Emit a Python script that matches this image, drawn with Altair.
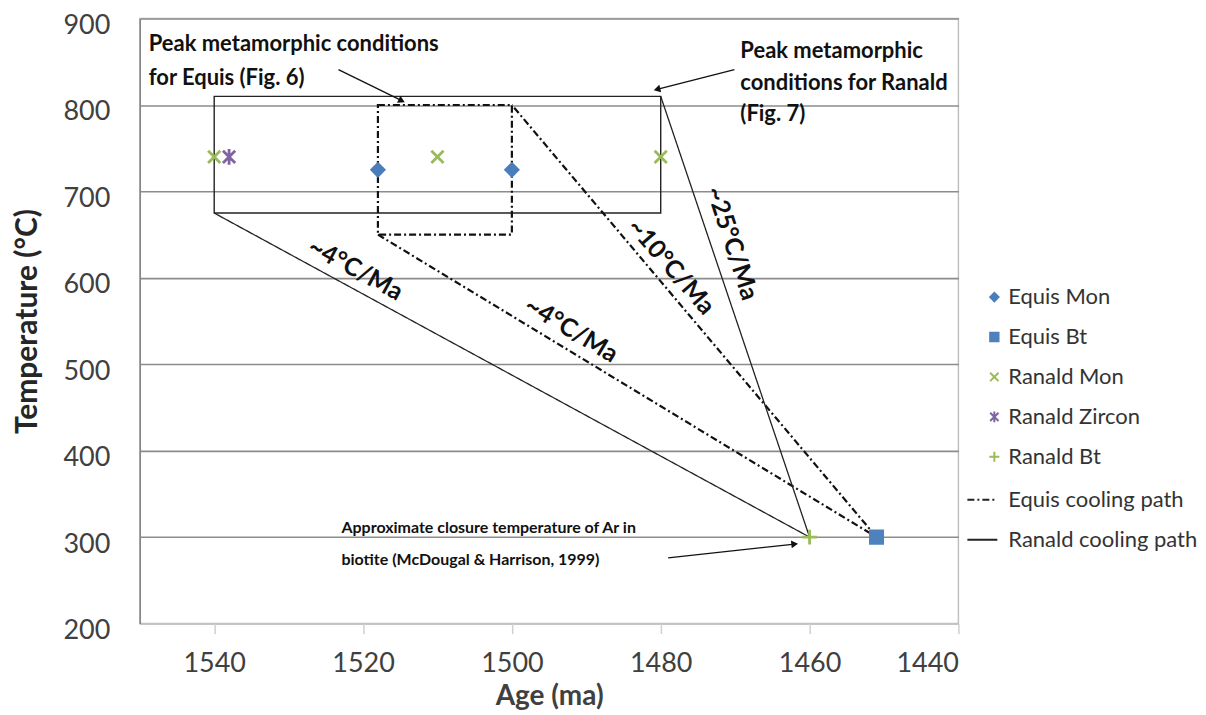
import math
import altair as alt
import pandas as pd

# ---------------- values ----------------
series_names = ["Equis Mon", "Equis Bt", "Ranald Mon", "Ranald Zircon", "Ranald Bt"]
series_colors = ["#4a7ebb", "#4f81bd", "#9bbb59", "#8064a2", "#9bbb59"]
series_shapes = ["diamond", "square",
                 "M-1,-1L1,1M-1,1L1,-1",
                 "M-1,-1L1,1M-1,1L1,-1M0,-1.3L0,1.3",
                 "M-1.2,0L1.2,0M0,-1.2L0,1.2"]

point_series = ["Equis Mon", "Equis Mon", "Equis Bt", "Ranald Mon", "Ranald Mon",
                "Ranald Mon", "Ranald Zircon", "Ranald Bt"]
point_age = [1518, 1500, 1451, 1540, 1510, 1480, 1538, 1460]
point_temp = [725, 725, 300, 740, 740, 740, 740, 300]

box_name = ["Ranald", "Equis"]
box_age_old = [1540, 1518]
box_age_young = [1480, 1500]
box_temp_low = [675, 650]
box_temp_high = [810, 800]

path_names = ["Equis cooling path", "Ranald cooling path"]
path_series = ["Equis cooling path"] * 3 + ["Ranald cooling path"] * 3
path_seq = [0, 1, 2, 0, 1, 2]
path_age = [1518, 1451, 1500, 1540, 1460, 1480]
path_temp = [650, 300, 800, 675, 300, 810]

rate_text = ["~4°C/Ma", "~4°C/Ma", "~10°C/Ma", "~25°C/Ma"]
rate_age = [1521, 1492, 1478.6, 1470.4]
rate_temp = [610, 540, 613, 640]
rate_angle = [28.6, 31.1, 49, 72]

note_text = ["Peak metamorphic conditions", "for Equis (Fig. 6)",
             "Peak metamorphic", "conditions for Ranald", "(Fig. 7)"]
note_age = [1548.8, 1548.8, 1469.3, 1469.3, 1469.3]
note_temp = [870, 831, 863, 826, 789]

small_note_text = ["Approximate closure temperature of Ar in",
                   "biotite (McDougal & Harrison, 1999)"]
small_note_age = [1522.9, 1522.9]
small_note_temp = [311, 273]

arrow_age_from = [1523.3, 1470.1, 1479]
arrow_temp_from = [841, 841, 276]
arrow_age_to = [1514.8, 1480.5, 1462]
arrow_temp_to = [805, 818, 292]

x_ticks = [1540, 1520, 1500, 1480, 1460, 1440]
y_ticks = [200, 300, 400, 500, 600, 700, 800, 900]
x_domain = [1440, 1550]
y_domain = [200, 900]

# ---------------- layout ----------------
W, H = 820, 606
FONT = "Lato"

points_df = pd.DataFrame({"series": point_series, "age": point_age, "temp": point_temp})
boxes_df = pd.DataFrame({"box": box_name, "age": box_age_old, "age2": box_age_young,
                         "temp": box_temp_low, "temp2": box_temp_high})
paths_df = pd.DataFrame({"path": path_series, "seq": path_seq, "age": path_age, "temp": path_temp})
rates_df = pd.DataFrame({"label": rate_text, "age": rate_age, "temp": rate_temp, "angle": rate_angle})
notes_df = pd.DataFrame({"label": note_text, "age": note_age, "temp": note_temp})
small_df = pd.DataFrame({"label": small_note_text, "age": small_note_age, "temp": small_note_temp})

px_per_age = W / (x_domain[1] - x_domain[0])
px_per_temp = H / (y_domain[1] - y_domain[0])
head_angle = []
for a0, t0, a1, t1 in zip(arrow_age_from, arrow_temp_from, arrow_age_to, arrow_temp_to):
    dx = -(a1 - a0) * px_per_age
    dy = -(t1 - t0) * px_per_temp
    head_angle.append(math.degrees(math.atan2(dy, dx)) % 360)
arrows_df = pd.DataFrame({"age": arrow_age_from, "temp": arrow_temp_from,
                          "age2": arrow_age_to, "temp2": arrow_temp_to, "angle": head_angle})

xs = alt.Scale(domain=x_domain, reverse=True, nice=False, zero=False)
ys = alt.Scale(domain=y_domain, nice=False, zero=False)
x_axis = alt.Axis(values=x_ticks, title="Age (ma)", grid=False, domainColor="#d0d0d0",
                  domainWidth=1.5, tickColor="#d0d0d0", tickWidth=1.5, tickSize=10,
                  labelFontSize=27, labelColor="#404040", labelPadding=17,
                  titleFontSize=28, titleFontWeight="bold", titleColor="#404040",
                  titlePadding=6, format="d")
y_axis = alt.Axis(values=y_ticks, title="Temperature (°C)", grid=True, gridColor="#8c8c8c",
                  gridWidth=1.6, domainColor="#868686", domainWidth=1.5, ticks=False,
                  labelFontSize=27, labelColor="#404040", labelPadding=30, labelOffset=7,
                  titleFontSize=30, titleFontWeight="bold", titleColor="#262626",
                  titlePadding=20)

X = alt.X("age:Q", scale=xs, axis=x_axis)
Y = alt.Y("temp:Q", scale=ys, axis=y_axis)

ranald_box = alt.Chart(boxes_df).transform_filter(alt.datum.box == "Ranald").mark_rect(
    fill="transparent", stroke="#222222", strokeWidth=1.4).encode(
    x=X, x2="age2:Q", y=Y, y2="temp2:Q")
equis_box = alt.Chart(boxes_df).transform_filter(alt.datum.box == "Equis").mark_rect(
    fill="transparent", stroke="#111111", strokeWidth=2.2, strokeDash=[7, 3, 2, 3]).encode(
    x=X, x2="age2:Q", y=Y, y2="temp2:Q")

dash_scale = alt.Scale(domain=path_names, range=[[7, 3, 2, 3], [1, 0]])
line_legend = alt.Legend(title=None, orient="none", legendX=828, legendY=466,
                         symbolType="stroke", symbolSize=900, symbolStrokeWidth=2,
                         symbolStrokeColor="#222222", labelFontSize=22, labelColor="#333333",
                         labelOffset=10, rowPadding=13, labelFont=FONT, labelLimit=400)
equis_path = alt.Chart(paths_df).transform_filter(alt.datum.path == "Equis cooling path").mark_line(
    color="#111111", strokeWidth=2.2).encode(
    x=X, y=Y, order="seq:Q",
    strokeDash=alt.StrokeDash("path:N", scale=dash_scale, legend=line_legend))
ranald_path = alt.Chart(paths_df).transform_filter(alt.datum.path == "Ranald cooling path").mark_line(
    color="#222222", strokeWidth=1.3).encode(
    x=X, y=Y, order="seq:Q",
    strokeDash=alt.StrokeDash("path:N", scale=dash_scale, legend=line_legend))

pt_legend = alt.Legend(title=None, orient="none", legendX=845, legendY=268,
                       symbolSize=70, symbolStrokeWidth=2, labelFontSize=22,
                       labelColor="#333333", labelOffset=3, rowPadding=18, labelFont=FONT,
                       labelLimit=400)
points = alt.Chart(points_df).mark_point(filled=True, size=150, strokeWidth=2.8, opacity=1).encode(
    x=X, y=Y,
    color=alt.Color("series:N", scale=alt.Scale(domain=series_names, range=series_colors), legend=pt_legend),
    stroke=alt.Stroke("series:N", scale=alt.Scale(domain=series_names, range=series_colors), legend=pt_legend),
    shape=alt.Shape("series:N", scale=alt.Scale(domain=series_names, range=series_shapes), legend=pt_legend),
)

rates = alt.Chart(rates_df).mark_text(font=FONT, fontSize=25, fontWeight="bold", color="#111111",
                                      align="center", baseline="middle").encode(
    x=X, y=Y, text="label:N", angle=alt.Angle("angle:Q", scale=None))

notes = alt.Chart(notes_df).mark_text(font=FONT, fontSize=22, fontWeight="bold", color="#111111",
                                      align="left", baseline="middle").encode(
    x=X, y=Y, text="label:N")

small_notes = alt.Chart(small_df).mark_text(font=FONT, fontSize=16, fontWeight="bold", color="#111111",
                                            align="left", baseline="middle").encode(
    x=X, y=Y, text="label:N")

arrow_lines = alt.Chart(arrows_df).mark_rule(color="#111111", strokeWidth=1.3).encode(
    x=X, y=Y, x2="age2:Q", y2="temp2:Q")
arrow_heads = alt.Chart(arrows_df).mark_point(shape="triangle-right", filled=True, size=60,
                                              color="#111111", opacity=1).encode(
    x=alt.X("age2:Q", scale=xs, axis=x_axis), y=alt.Y("temp2:Q", scale=ys, axis=y_axis),
    angle=alt.Angle("angle:Q", scale=None))

chart = alt.layer(
    ranald_box, equis_box, equis_path, ranald_path, points,
    rates, notes, small_notes, arrow_lines, arrow_heads
).properties(
    width=W, height=H,
    padding={"left": 5, "top": 3, "right": 0, "bottom": 0},
).configure(font=FONT).configure_view(stroke="#bfbfbf", strokeWidth=1.5)

chart.save("out.html", embed_options={"renderer": "svg", "actions": False})
